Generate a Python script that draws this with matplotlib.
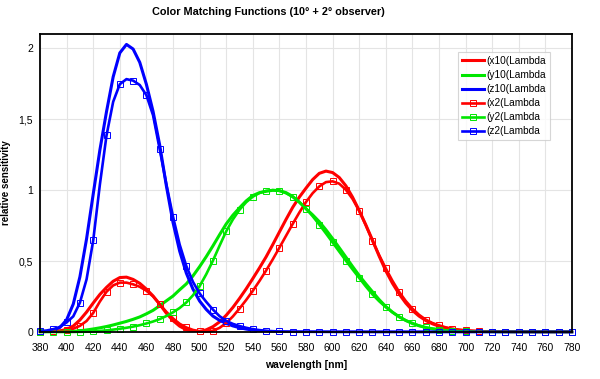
import matplotlib
matplotlib.use('Agg')
import matplotlib.pyplot as plt
import matplotlib.ticker as mticker

plt.rcParams['font.family'] = ['Liberation Sans', 'DejaVu Sans']

# ─── CIE 1964 10° observer (5 nm) ──────────────────────────────
wl = list(range(380, 785, 5))
x10 = [0.000160, 0.000662, 0.002362, 0.007242, 0.019110, 0.042207, 0.084736, 0.140638,
       0.204492, 0.264737, 0.314679, 0.357719, 0.383734, 0.386726, 0.370702, 0.342957,
       0.302273, 0.254085, 0.195618, 0.132349, 0.080507, 0.041072, 0.016172, 0.005132,
       0.003816, 0.015444, 0.037465, 0.071358, 0.117749, 0.172953, 0.236491, 0.304213,
       0.376772, 0.451584, 0.529826, 0.616053, 0.705224, 0.793832, 0.878655, 0.951162,
       1.014160, 1.074300, 1.118520, 1.134300, 1.123990, 1.089100, 1.030480, 0.950740,
       0.856297, 0.754930, 0.647467, 0.535110, 0.431567, 0.343690, 0.268329, 0.204300,
       0.152568, 0.112210, 0.081261, 0.057930, 0.040851, 0.028623, 0.019941, 0.013842,
       0.009577, 0.006605, 0.004553, 0.003145, 0.002175, 0.001506, 0.001045, 0.000727,
       0.000508, 0.000356, 0.000251, 0.000178, 0.000126, 0.000090, 0.000065, 0.000046,
       0.000033]
y10 = [0.000017, 0.000072, 0.000253, 0.000769, 0.002004, 0.004509, 0.008756, 0.014456,
       0.021391, 0.029497, 0.038676, 0.049602, 0.062077, 0.074704, 0.089456, 0.106256,
       0.128201, 0.152761, 0.185190, 0.219940, 0.253589, 0.297665, 0.339133, 0.395379,
       0.460777, 0.531360, 0.606741, 0.685660, 0.761757, 0.823330, 0.875211, 0.923810,
       0.961988, 0.982200, 0.991761, 0.999110, 0.997340, 0.982380, 0.955552, 0.915175,
       0.868934, 0.825623, 0.777405, 0.720353, 0.658341, 0.593878, 0.527963, 0.461834,
       0.398057, 0.339554, 0.283493, 0.228254, 0.179828, 0.140211, 0.107633, 0.081187,
       0.060281, 0.044096, 0.031800, 0.022602, 0.015905, 0.011130, 0.007749, 0.005375,
       0.003718, 0.002565, 0.001768, 0.001222, 0.000846, 0.000586, 0.000407, 0.000284,
       0.000199, 0.000140, 0.000098, 0.000070, 0.000050, 0.000036, 0.000025, 0.000018,
       0.000013]
z10 = [0.000705, 0.002928, 0.010482, 0.032344, 0.086011, 0.197120, 0.389366, 0.656760,
       0.972542, 1.282500, 1.553480, 1.798500, 1.967280, 2.027300, 1.994800, 1.900700,
       1.745370, 1.554900, 1.317560, 1.030200, 0.772125, 0.570060, 0.415254, 0.302356,
       0.218502, 0.159249, 0.112044, 0.082248, 0.060709, 0.043050, 0.030451, 0.020584,
       0.013676, 0.007918, 0.003988, 0.001091, 0.0, 0.0, 0.0, 0.0,
       0.0, 0.0, 0.0, 0.0, 0.0, 0.0, 0.0, 0.0,
       0.0, 0.0, 0.0, 0.0, 0.0, 0.0, 0.0, 0.0,
       0.0, 0.0, 0.0, 0.0, 0.0, 0.0, 0.0, 0.0,
       0.0, 0.0, 0.0, 0.0, 0.0, 0.0, 0.0, 0.0,
       0.0, 0.0, 0.0, 0.0, 0.0, 0.0, 0.0, 0.0,
       0.0]

# ─── CIE 1931 2° observer (5 nm, Marker alle 10 nm) ────────────
x2 = [0.001368, 0.002236, 0.004243, 0.007650, 0.014310, 0.023190, 0.043510, 0.077630,
      0.134380, 0.214770, 0.283900, 0.328500, 0.348280, 0.348060, 0.336200, 0.318700,
      0.290800, 0.251100, 0.195360, 0.142100, 0.095640, 0.057950, 0.032010, 0.014700,
      0.004900, 0.002400, 0.009300, 0.029100, 0.063270, 0.109600, 0.165500, 0.225750,
      0.290400, 0.359700, 0.433450, 0.512050, 0.594500, 0.678400, 0.762100, 0.842500,
      0.916300, 0.978600, 1.026300, 1.056700, 1.062200, 1.045600, 1.002600, 0.938400,
      0.854450, 0.751400, 0.642400, 0.541900, 0.447900, 0.360800, 0.283500, 0.218700,
      0.164900, 0.121200, 0.087400, 0.063600, 0.046770, 0.032900, 0.022700, 0.016000,
      0.011359, 0.008111, 0.005790, 0.004109, 0.002899, 0.002049, 0.001440, 0.001000,
      0.000690, 0.000476, 0.000332, 0.000235, 0.000166, 0.000117, 0.000083, 0.000059,
      0.000042]
y2 = [0.000039, 0.000064, 0.000120, 0.000217, 0.000396, 0.000640, 0.001210, 0.002180,
      0.004000, 0.007300, 0.011600, 0.016840, 0.023000, 0.029800, 0.038000, 0.048000,
      0.060000, 0.073900, 0.090980, 0.112600, 0.139020, 0.169300, 0.208020, 0.258600,
      0.323000, 0.407300, 0.503000, 0.608200, 0.710000, 0.793200, 0.862000, 0.914850,
      0.954000, 0.980000, 0.994950, 1.000000, 0.995000, 0.978600, 0.952000, 0.915400,
      0.870000, 0.816300, 0.757000, 0.694900, 0.631000, 0.566800, 0.503000, 0.441200,
      0.381000, 0.321000, 0.265000, 0.217000, 0.175000, 0.138200, 0.107000, 0.081600,
      0.061000, 0.044580, 0.032000, 0.023200, 0.017000, 0.011920, 0.008210, 0.005723,
      0.004102, 0.002929, 0.002091, 0.001484, 0.001047, 0.000740, 0.000520, 0.000361,
      0.000249, 0.000172, 0.000120, 0.000085, 0.000060, 0.000042, 0.000030, 0.000021,
      0.000015]
z2 = [0.006450, 0.010550, 0.020050, 0.036210, 0.067850, 0.110200, 0.207400, 0.371300,
      0.645600, 1.039050, 1.385600, 1.622960, 1.747060, 1.782600, 1.772110, 1.741060,
      1.669200, 1.528100, 1.287640, 1.041900, 0.812950, 0.616200, 0.465180, 0.353300,
      0.272000, 0.212300, 0.158200, 0.111700, 0.078250, 0.057250, 0.042160, 0.029840,
      0.020300, 0.013400, 0.008750, 0.005750, 0.003900, 0.002750, 0.002100, 0.001800,
      0.001650, 0.001400, 0.001100, 0.001000, 0.000800, 0.000600, 0.000340, 0.000240,
      0.000190, 0.000100, 0.000050, 0.000030, 0.000020, 0.000010, 0.0, 0.0,
      0.0, 0.0, 0.0, 0.0, 0.0, 0.0, 0.0, 0.0,
      0.0, 0.0, 0.0, 0.0, 0.0, 0.0, 0.0, 0.0,
      0.0, 0.0, 0.0, 0.0, 0.0, 0.0, 0.0, 0.0,
      0.0]

labels = ['(x10(Lambda', '(y10(Lambda', '(z10(Lambda',
          '(x2(Lambda', '(y2(Lambda', '(z2(Lambda']
colors = ['#ff0000', '#00e600', '#0000ff']

# ─── PLOT ──────────────────────────────────────────────────────
fig = plt.figure(figsize=(6, 3.79), dpi=100)
ax = fig.add_axes([0.0667, 0.124, 0.8866, 0.786])

for ys, c, lab in zip([x10, y10, z10], colors, labels[:3]):
    ax.plot(wl, ys, color=c, lw=2.2, label=lab)

for ys, c, lab in zip([x2, y2, z2], colors, labels[3:]):
    ax.plot(wl, ys, color=c, lw=1.9, marker='s', markevery=2, ms=5, mfc='none',
            mec=c, mew=0.7, label=lab, clip_on=False)

ax.set_xlim(380, 780)
ax.set_ylim(0, 2.1)
ax.set_xticks(range(380, 781, 20))
ax.set_yticks([0, 0.5, 1, 1.5, 2])
ax.yaxis.set_major_formatter(
    mticker.FuncFormatter(lambda v, p: '{:g}'.format(v).replace('.', ',')))
ax.tick_params(axis='x', length=0, labelsize=7.5, pad=8)
ax.tick_params(axis='y', length=0, labelsize=7.5, pad=5)
ax.grid(True, color='#e4e4e4', lw=0.8)
ax.set_axisbelow(True)
for s in ax.spines.values():
    s.set_linewidth(1.3)
    s.set_color('black')

ax.set_xlabel('wavelength [nm]', fontsize=7.5, fontweight='bold', va='center')
ax.xaxis.set_label_coords(0.5, -0.111)
ax.set_ylabel('relative sensitivity', fontsize=7, fontweight='bold', va='center')
ax.yaxis.set_label_coords(-0.064, 0.5)
fig.text(0.447, 0.968, 'Color Matching Functions (10° + 2° observer)',
         ha='center', va='center', fontsize=7.8, fontweight='bold')

leg = ax.legend(loc='upper right', bbox_to_anchor=(0.959, 0.94), fontsize=7.3,
                frameon=True, fancybox=False, handlelength=2.2, labelspacing=0.4,
                borderpad=0.4, handletextpad=0.2, borderaxespad=0)
leg.get_frame().set_edgecolor('#cccccc')
leg.get_frame().set_linewidth(0.8)

fig.savefig('out.png', dpi=100)
